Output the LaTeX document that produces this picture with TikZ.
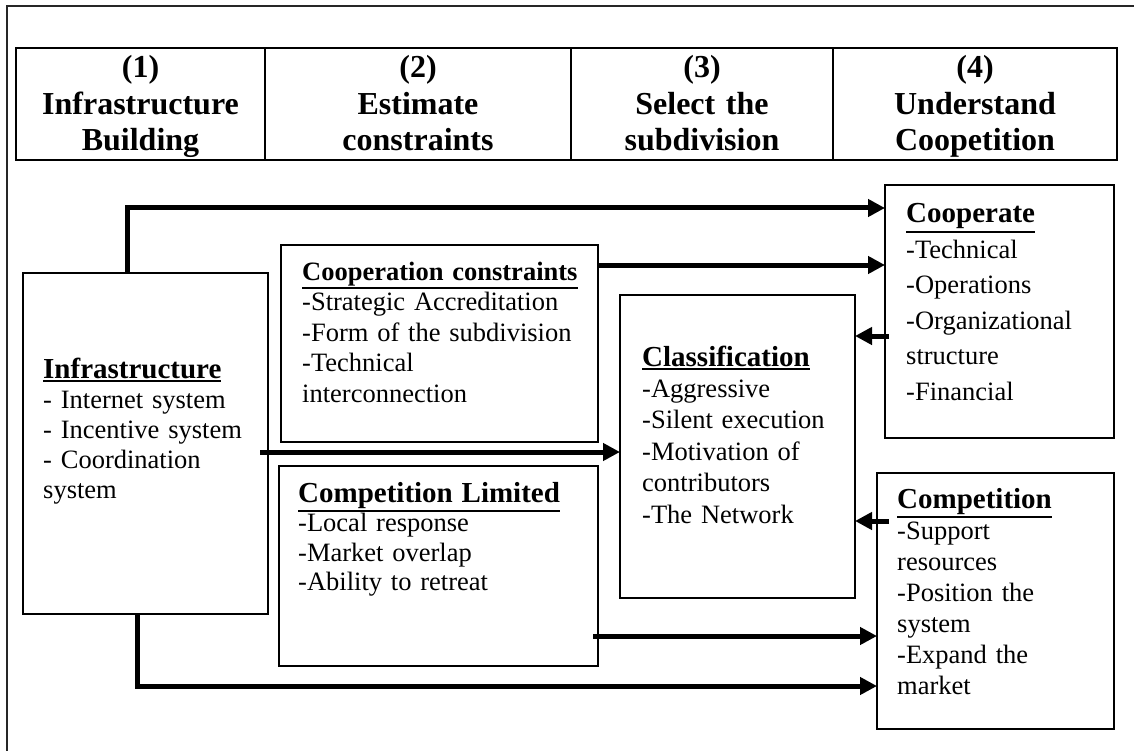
\documentclass[tikz,border=0pt]{standalone}
\usepackage{fontspec}
\setmainfont{Liberation Serif}
\usetikzlibrary{arrows.meta}

% underlined heading: a 2pt rule just below the word's depth
\newcommand{\hd}[1]{\setbox0=\hbox{#1}\rlap{\rule[-\dimexpr\dp0+3.5pt\relax]{\wd0}{2pt}}\box0}

\begin{document}
\begin{tikzpicture}[x=1pt,y=-1pt,
  frame/.style={line width=1.5pt, black!85},
  hcell/.style={draw, line width=2.5pt, minimum width=#1, minimum height=112pt,
    anchor=north west, inner sep=0pt, outer sep=0pt},
  htext/.style={anchor=base, inner sep=0pt, text width=#1, align=center,
    font=\fontsize{32}{36.5}\selectfont\bfseries},
  box/.style={draw, line width=2pt, inner sep=0pt, outer sep=0pt, anchor=north west},
  btext/.style={anchor=base west, inner sep=0pt, text width=#1, align=left},
  arr/.style={line width=5pt, line join=miter, -{Triangle[length=17pt,width=17pt]}}
]
\useasboundingbox (0,0) rectangle (1134,751);

% page frame
\draw[frame] (7,751) -- (7,6) -- (1134,6);

% phase header
\node[hcell=249pt] (h1) at (16,48) {};
\node[hcell=306pt] (h2) at (265,48) {};
\node[hcell=262pt] (h3) at (571,48) {};
\node[hcell=284pt] (h4) at (833,48) {};
\node[htext=245pt] (t1) at (140.5,78) {(1)\\Infrastructure\\Building};
\node[htext=300pt] (t2) at (418,78) {(2)\\Estimate\\constraints};
\node[htext=258pt] (t3) at (702,78) {(3)\\Select the\\subdivision};
\node[htext=280pt] (t4) at (975,78) {(4)\\Understand\\Coopetition};

% boxes
\node[box, minimum width=245pt, minimum height=341pt] (infra)  at (23,273)  {};
\node[box, minimum width=317pt, minimum height=197pt] (ccons)  at (281,245) {};
\node[box, minimum width=319pt, minimum height=200pt] (climit) at (279,466) {};
\node[box, minimum width=235pt, minimum height=303pt] (class)  at (620,295) {};
\node[box, minimum width=229pt, minimum height=253pt] (coop)   at (885,185) {};
\node[box, minimum width=237pt, minimum height=256pt] (comp)   at (877,473) {};

% box contents
\node[btext=222pt, font=\fontsize{26.5}{30}\selectfont] (infraT) at (43,378)
  {{\fontsize{29}{30}\selectfont\bfseries\hd{Infrastructure}}\\- Internet system\\- Incentive system\\- Coordination\\system};
\node[btext=292pt, font=\fontsize{26.5}{30.5}\selectfont] (cconsT) at (302,280)
  {{\bfseries\hd{Cooperation constraints}}\\-Strategic Accreditation\\-Form of the subdivision\\-Technical\\interconnection};
\node[btext=296pt, font=\fontsize{26.5}{29.5}\selectfont] (climitT) at (298,502)
  {{\fontsize{29}{29.5}\selectfont\bfseries\hd{Competition Limited}}\\-Local response\\-Market overlap\\-Ability to retreat};
\node[btext=210pt, font=\fontsize{26.5}{31.4}\selectfont] (classT) at (642,366)
  {{\fontsize{29}{31.4}\selectfont\bfseries\hd{Classification}}\\-Aggressive\\-Silent execution\\-Motivation of\\contributors\\-The Network};
\node[btext=205pt, font=\fontsize{26.5}{35.4}\selectfont] (coopT) at (906,223)
  {{\fontsize{29}{35.4}\selectfont\bfseries\hd{Cooperate}}\\-Technical\\-Operations\\-Organizational\\structure\\-Financial};
\node[btext=212pt, font=\fontsize{26.5}{31}\selectfont] (compT) at (897,508)
  {{\fontsize{29}{31}\selectfont\bfseries\hd{Competition}}\\-Support\\resources\\-Position the\\system\\-Expand the\\market};

% connectors
\draw[arr] ([xshift=-18.5pt]infra.north) |- ([yshift=-23pt]coop.north west);
\draw[arr] ([yshift=-20pt]ccons.north east) -- ([yshift=-20pt]ccons.north east -| coop.west);
\draw[arr] ([xshift=-8pt,yshift=-8.5pt]infra.east) -- ([yshift=-8.5pt]infra.east -| class.west);
\draw[arr] ([xshift=4pt,yshift=-24.5pt]coop.west) -- ([yshift=-24.5pt]coop.west -| class.east);
\draw[arr] ([xshift=12pt,yshift=80pt]comp.west) -- ([yshift=80pt]comp.west -| class.east);
\draw[arr] ([xshift=-5pt,yshift=-70pt]climit.east) -- ([yshift=-70pt]climit.east -| comp.west);
\draw[arr] ([xshift=-8.5pt]infra.south) |- ([yshift=-85pt]comp.west);
\end{tikzpicture}
\end{document}
